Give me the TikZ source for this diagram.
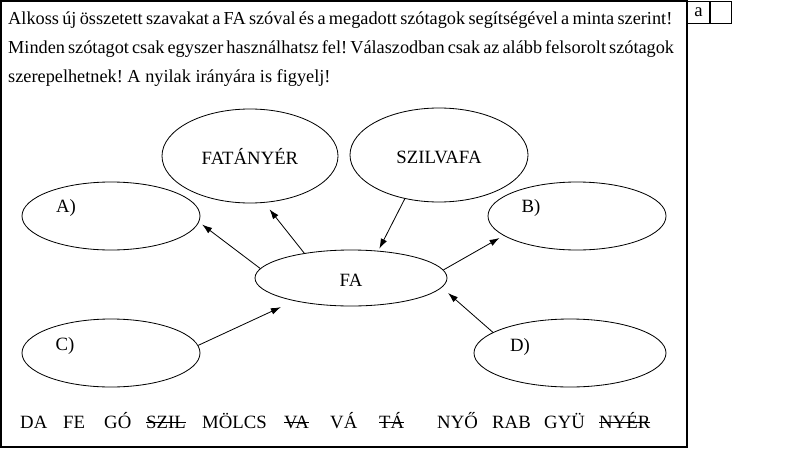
\documentclass[tikz,border=0pt]{standalone}
\usepackage{fontspec}
\setmainfont{Liberation Serif}
\usetikzlibrary{shapes.geometric,arrows.meta}
\newcommand{\aus}[1]{\setbox0\hbox{#1}\rlap{\rule[0.3em]{\wd0}{0.6pt}}\box0}
\frenchspacing

\begin{document}
\begin{tikzpicture}[x=0.03cm, y=-0.03cm, every node/.style={inner sep=0pt, font=\fontsize{16}{24.6}\selectfont}]
        \tikzset{blase/.style={ellipse, draw, line width=0.7pt, text height=14pt, text depth=0pt, minimum width=5.34cm, minimum height=2.04cm}}
        \tikzset{myarrow/.style={-{Latex[length=3mm,width=2mm]}, line width=0.7pt}}
        \useasboundingbox (0,0) rectangle (795,451);
        \draw[line width=1pt] (1,1) rectangle (687,447);
        % points box
        \node[draw, line width=0.9pt, anchor=north west, minimum width=0.66cm, minimum height=0.66cm] (pa) at (687,1) {a};
        \node[draw, line width=0.9pt, anchor=north west, minimum width=0.63cm, minimum height=0.66cm] (pb) at (pa.north east) {};
        % task text
        \node[anchor=north west, align=left, font=\fontsize{15.6}{24.6}\selectfont] (auftrag) at (8,12) {\makebox[19.92cm][s]{Alkoss új összetett szavakat a FA szóval és a megadott szótagok segítségével a minta szerint!}\\ \makebox[19.92cm][s]{Minden szótagot csak egyszer használhatsz fel! Válaszodban csak az alább felsorolt szótagok}\\ szerepelhetnek! A nyilak irányára is figyelj!};
        % ellipses
        \node[blase, minimum width=5.28cm, minimum height=2.82cm] (fatanyer) at (250,156) {FATÁNYÉR};
        \node[blase, minimum height=2.82cm] (szilvafa) at (439,155) {SZILVAFA};
        \node[blase] (a) at (111,216) {};
        \node[blase] (b) at (577,216) {};
        \node[blase, minimum width=5.76cm, minimum height=1.68cm] (fa) at (351,278) {FA};
        \node[blase] (c) at (111,353) {};
        \node[blase, minimum width=5.76cm] (d) at (570,353) {};
        \node (alab) at (66,208) {A)};
        \node (blab) at (531,208) {B)};
        \node (clab) at (65,346) {C)};
        \node (dlab) at (520,347) {D)};
        % arrows
        \draw[myarrow, shorten >=0.12cm] (fa.174) -- (a.-4);
        \draw[myarrow, shorten >=0.25cm] (fa.152) -- (fatanyer.-73);
        \draw[myarrow, shorten >=0.07cm] (szilvafa.-128) -- (fa.45);
        \draw[myarrow, shorten >=0.14cm] (fa.5) -- (b.195);
        \draw[myarrow, shorten >=0.44cm] (c.5) -- (fa.202);
        \draw[myarrow, shorten >=0.25cm] (d.165) -- (fa.-6);
        % syllables
        \foreach \x/\silbe [count=\i] in {20/DA, 63/FE, 104/GÓ, 146/\aus{SZIL}, 202/MÖLCS, 284/\aus{VA}, 330/VÁ, 379/\aus{TÁ}, 437/NYŐ, 492/RAB, 544/GYÜ, 599/\aus{NYÉR}}
          \node[anchor=base west] (silbe\i) at (\x,428) {\silbe};
\end{tikzpicture}
\end{document}
